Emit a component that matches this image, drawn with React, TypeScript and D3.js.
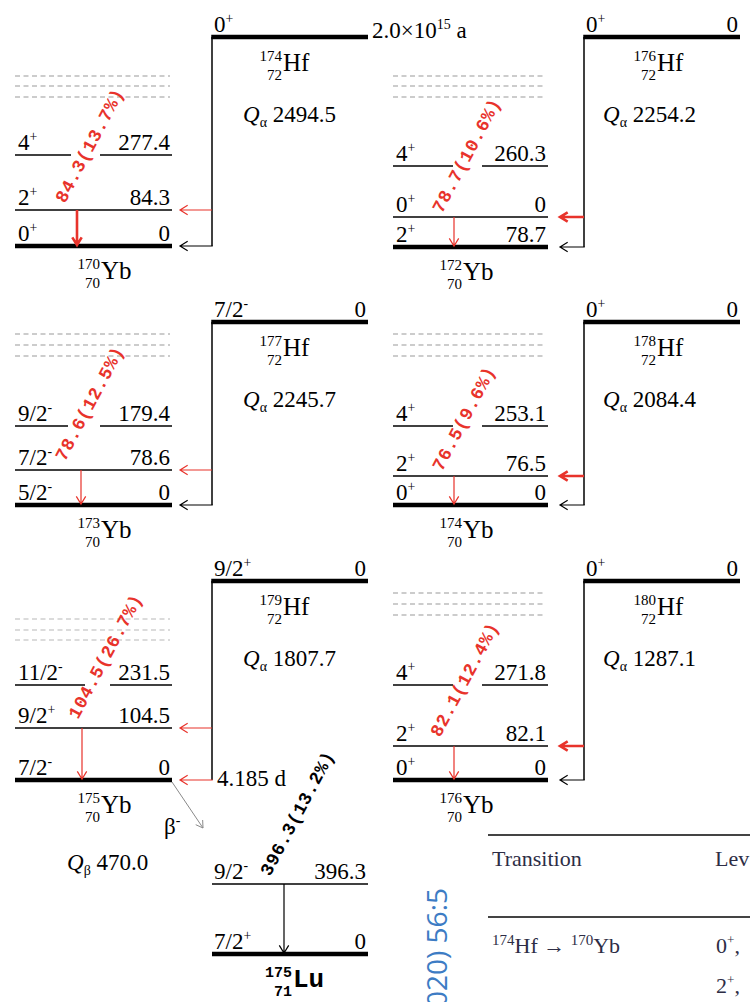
import * as d3 from "d3";
import React from "react";

// parent nuclides (Hf isotopes)
const parentMass = [174, 176, 177, 178, 179, 180];
const parentSpin = ["0+", "0+", "7/2-", "0+", "9/2+", "0+"];
const parentEnergy = ["", "0", "0", "0", "0", "0"];
const qAlpha = ["2494.5", "2254.2", "2245.7", "2084.4", "1807.7", "1287.1"];

// daughter nuclides (Yb isotopes), levels listed bottom to top
const daughterMass = [170, 172, 173, 174, 175, 176];
const levelSpins = [
  ["0+", "2+", "4+"],
  ["2+", "0+", "4+"],
  ["5/2-", "7/2-", "9/2-"],
  ["0+", "2+", "4+"],
  ["7/2-", "9/2+", "11/2-"],
  ["0+", "2+", "4+"],
];
const levelEnergies = [
  ["0", "84.3", "277.4"],
  ["78.7", "0", "260.3"],
  ["0", "78.6", "179.4"],
  ["0", "76.5", "253.1"],
  ["0", "104.5", "231.5"],
  ["0", "82.1", "271.8"],
];
const gammaEnergy = ["84.3", "78.7", "78.6", "76.5", "104.5", "82.1"];
const gammaIntensity = ["13.7", "10.6", "12.5", "9.6", "26.7", "12.4"];

// 175Yb beta decay to 175Lu
const luSpins = ["7/2+", "9/2-"];
const luEnergies = ["0", "396.3"];
const luGamma = "396.3";
const luIntensity = "13.2";
const qBeta = "470.0";

// table fragment
const tableHead = ["Transition", "Lev"];
const tableLevels = ["0+,", "2+,"];

// layout (pixels)
const colLeft = [15, 393];
const levelWidth = [157, 155];
const parentLeft = [212, 584];
const parentWidth = 156;
const rowParentY = [37, 322, 581];
const groundY = [246, 247, 505, 505, 780, 780];
const levelRise = [[0, 36, 91], [0, 30, 81], [0, 35, 79], [0, 29, 79], [0, 52, 95], [0, 34, 95]];
const dashRise = [[149, 160, 170], [150, 161, 171], [149, 160, 171], [149, 160, 171], [140, 150, 161], [165, 176, 187]];
const gapX = [[56, 85], [60, 89], [53, 85], [60, 89], [70, 95], [60, 89]];
const gammaDx = [62, 61, 66, 61, 67, 61];
const labelOff = [[-12, -6], [-12, -3], [-16, -8], [-12, -4], [-4, -8], [-14, -8]];
const gammaW = [2.6, 1.2, 1.2, 1.2, 1.2, 1.2];
const feedW = [1.2, 2.6, 1.2, 2.6, 1.2, 2.6];

const RED = "#e8332b";
const SERIF = "Liberation Serif";
const MONO = "Liberation Mono";
const FS = 23;

function arrow(x1: number, y1: number, x2: number, y2: number, head = 9) {
  const p = d3.path();
  p.moveTo(x1, y1);
  p.lineTo(x2, y2);
  const a = Math.atan2(y2 - y1, x2 - x1);
  const s = 0.55;
  p.moveTo(x2 - head * Math.cos(a - s), y2 - head * Math.sin(a - s));
  p.lineTo(x2, y2);
  p.lineTo(x2 - head * Math.cos(a + s), y2 - head * Math.sin(a + s));
  return p.toString();
}

function Spin({ x, y, s, anchor = "start", font = SERIF, size = FS }: any) {
  const m = s.match(/^(.*?)([+-])(,?)$/);
  return (
    <text x={x} y={y} textAnchor={anchor} fontFamily={font} fontSize={size}>
      <tspan>{m ? m[1] : s}</tspan>
      {m && (
        <tspan dy={-9} fontSize={size * 0.6}>
          {m[2]}
        </tspan>
      )}
      {m && m[3] && <tspan dy={9}>{m[3]}</tspan>}
    </text>
  );
}

function Nuclide({ x, y, a, z, el, font = SERIF, size = 25, small = 15, bold = false }: any) {
  return (
    <g fontFamily={font} fontWeight={bold ? "bold" : "normal"}>
      <text x={x - 1} y={y - 10} textAnchor="end" fontSize={small}>{a}</text>
      <text x={x - 1} y={y + 9} textAnchor="end" fontSize={small}>{z}</text>
      <text x={x} y={y} fontSize={size}>{el}</text>
    </g>
  );
}

function Qval({ x, y, sub, v }: any) {
  return (
    <text x={x} y={y} fontFamily={SERIF} fontSize={FS}>
      <tspan fontStyle="italic">Q</tspan>
      <tspan dy={5} fontSize={14}>{sub}</tspan>
      <tspan dy={-5}> {v}</tspan>
    </text>
  );
}

function GammaLabel({ x, y, e, i, color }: any) {
  return (
    <text
      transform={`translate(${x},${y}) rotate(-62)`}
      fontFamily={MONO}
      fontWeight="bold"
      fontSize={18}
      letterSpacing={0.7}
      fill={color}
    >
      {`${e}(${i}%)`}
    </text>
  );
}

const colScale = d3.scaleOrdinal<number, number>().domain([0, 1]).range([0, 1]);

export default function App() {
  return (
    <svg width={750} height={1002} style={{ position: "absolute", left: 0, top: 0 }}>
      <rect width={750} height={1002} fill="#fff" />
      {parentMass.map((mass, i) => {
        const col = colScale(i % 2);
        const row = Math.floor(i / 2);
        const x0 = colLeft[col];
        const x1 = x0 + levelWidth[col];
        const px0 = parentLeft[col];
        const px1 = px0 + parentWidth;
        const py = rowParentY[row];
        const gy = groundY[i];
        const ly = levelRise[i].map((r) => gy - r);
        const gx = x0 + gammaDx[i];
        const tip = x1 + (col === 0 ? 8 : 12);
        const dashColor = i === 4 ? "#b8b8b8" : "#9a9a9a";
        return (
          <g key={mass}>
            {/* dashed higher levels */}
            {dashRise[i].map((r) => (
              <line key={r} x1={x0} x2={x1 - 2} y1={gy - r} y2={gy - r} stroke={dashColor} strokeWidth={1.2} strokeDasharray="5,3.5" />
            ))}
            {/* levels */}
            <line x1={x0} x2={x1} y1={gy} y2={gy} stroke="#000" strokeWidth={4.5} />
            <line x1={x0} x2={x1} y1={ly[1]} y2={ly[1]} stroke="#000" strokeWidth={1.3} />
            <line x1={x0} x2={x0 + gapX[i][0]} y1={ly[2]} y2={ly[2]} stroke="#000" strokeWidth={1.3} />
            <line x1={x0 + gapX[i][1]} x2={x1} y1={ly[2]} y2={ly[2]} stroke="#000" strokeWidth={1.3} />
            {levelSpins[i].map((s, k) => (
              <g key={k}>
                <Spin x={x0 + 3} y={ly[k] - 5} s={s} />
                <text x={x1 - 2} y={ly[k] - 5} textAnchor="end" fontFamily={SERIF} fontSize={FS}>
                  {levelEnergies[i][k]}
                </text>
              </g>
            ))}
            {/* gamma */}
            <path d={arrow(gx, ly[1], gx, gy - 1)} stroke={RED} strokeWidth={gammaW[i]} fill="none" />
            <GammaLabel x={gx + labelOff[i][0]} y={ly[1] + labelOff[i][1]} e={gammaEnergy[i]} i={gammaIntensity[i]} color={RED} />
            {/* parent */}
            <line x1={px0 - 0.75} x2={px1} y1={py} y2={py} stroke="#000" strokeWidth={4.5} />
            <Spin x={px0 + 2} y={py - 5} s={parentSpin[i]} />
            {parentEnergy[i] && (
              <text x={px1 - 2} y={py - 5} textAnchor="end" fontFamily={SERIF} fontSize={FS}>
                {parentEnergy[i]}
              </text>
            )}
            <line x1={px0} x2={px0} y1={py} y2={gy} stroke="#000" strokeWidth={1.5} />
            <path d={arrow(px0, ly[1], tip, ly[1])} stroke={RED} strokeWidth={feedW[i]} fill="none" />
            <path d={arrow(px0 + 0.75, gy, tip, gy)} stroke={i === 4 ? RED : "#000"} strokeWidth={1.2} fill="none" />
            <Nuclide x={px0 + (col === 0 ? 71 : 73)} y={py + 34} a={mass} z={72} el="Hf" />
            <Qval x={px0 + (col === 0 ? 31 : 19)} y={py + 85} sub="α" v={qAlpha[i]} />
            <Nuclide x={x0 + (col === 0 ? 86 : 70)} y={gy + 33} a={daughterMass[i]} z={70} el="Yb" />
          </g>
        );
      })}

      {/* half-lives */}
      <text x={372} y={38} fontFamily={SERIF} fontSize={FS}>
        <tspan>2.0×10</tspan>
        <tspan dy={-9} fontSize={14}>15</tspan>
        <tspan dy={9}> a</tspan>
      </text>
      <text x={217} y={786} fontFamily={SERIF} fontSize={FS}>4.185 d</text>

      {/* beta decay of 175Yb */}
      <path d={arrow(172, 782, 203, 828, 8)} stroke="#8a8a8a" strokeWidth={1} fill="none" />
      <text x={164} y={834} fontFamily={SERIF} fontSize={FS}>
        <tspan>β</tspan>
        <tspan dy={-9} fontSize={14}>-</tspan>
      </text>
      <Qval x={67} y={870} sub="β" v={qBeta} />

      {/* 175Lu */}
      {(() => {
        const x0 = 212;
        const x1 = 368;
        const gy = 954;
        const ly = [gy, 884];
        const gx = 284;
        return (
          <g>
            <line x1={x0} x2={x1} y1={gy} y2={gy} stroke="#000" strokeWidth={4.5} />
            <line x1={x0} x2={x1} y1={ly[1]} y2={ly[1]} stroke="#000" strokeWidth={1.3} />
            {luSpins.map((s, k) => (
              <g key={k}>
                <Spin x={x0 + 2} y={ly[k] - 5} s={s} />
                <text x={x1 - 2} y={ly[k] - 5} textAnchor="end" fontFamily={SERIF} fontSize={FS}>
                  {luEnergies[k]}
                </text>
              </g>
            ))}
            <path d={arrow(gx, ly[1], gx, gy - 1)} stroke="#000" strokeWidth={1.2} fill="none" />
            <GammaLabel x={gx - 14} y={ly[1] - 7} e={luGamma} i={luIntensity} color="#000" />
            <Nuclide x={293} y={987} a={175} z={71} el="Lu" font={MONO} size={26} small={15} bold />
          </g>
        );
      })()}

      {/* table fragment */}
      <line x1={488} x2={750} y1={835} y2={835} stroke="#444" strokeWidth={2} />
      <line x1={488} x2={750} y1={917} y2={917} stroke="#444" strokeWidth={2} />
      <g fontFamily={SERIF} fontSize={22} fill="#2d2d45">
        <text x={492} y={866}>{tableHead[0]}</text>
        <text x={715} y={866}>{tableHead[1]}</text>
        <text x={492} y={953}>
          <tspan dy={-8} fontSize={15}>174</tspan>
          <tspan dy={8}>Hf → </tspan>
          <tspan dy={-8} fontSize={15}>170</tspan>
          <tspan dy={8}>Yb</tspan>
        </text>
      </g>
      {tableLevels.map((s, k) => (
        <g key={s} fill="#2d2d45">
          <Spin x={716} y={953 + k * 40} s={s} size={22} />
        </g>
      ))}

      {/* journal reference in margin */}
      <text
        transform="translate(447,888) rotate(-90)"
        textAnchor="end"
        fontFamily="Open Sans"
        fontSize={28}
        fill="#3d7cc4"
      >
        020) 56:5
      </text>
    </svg>
  );
}
